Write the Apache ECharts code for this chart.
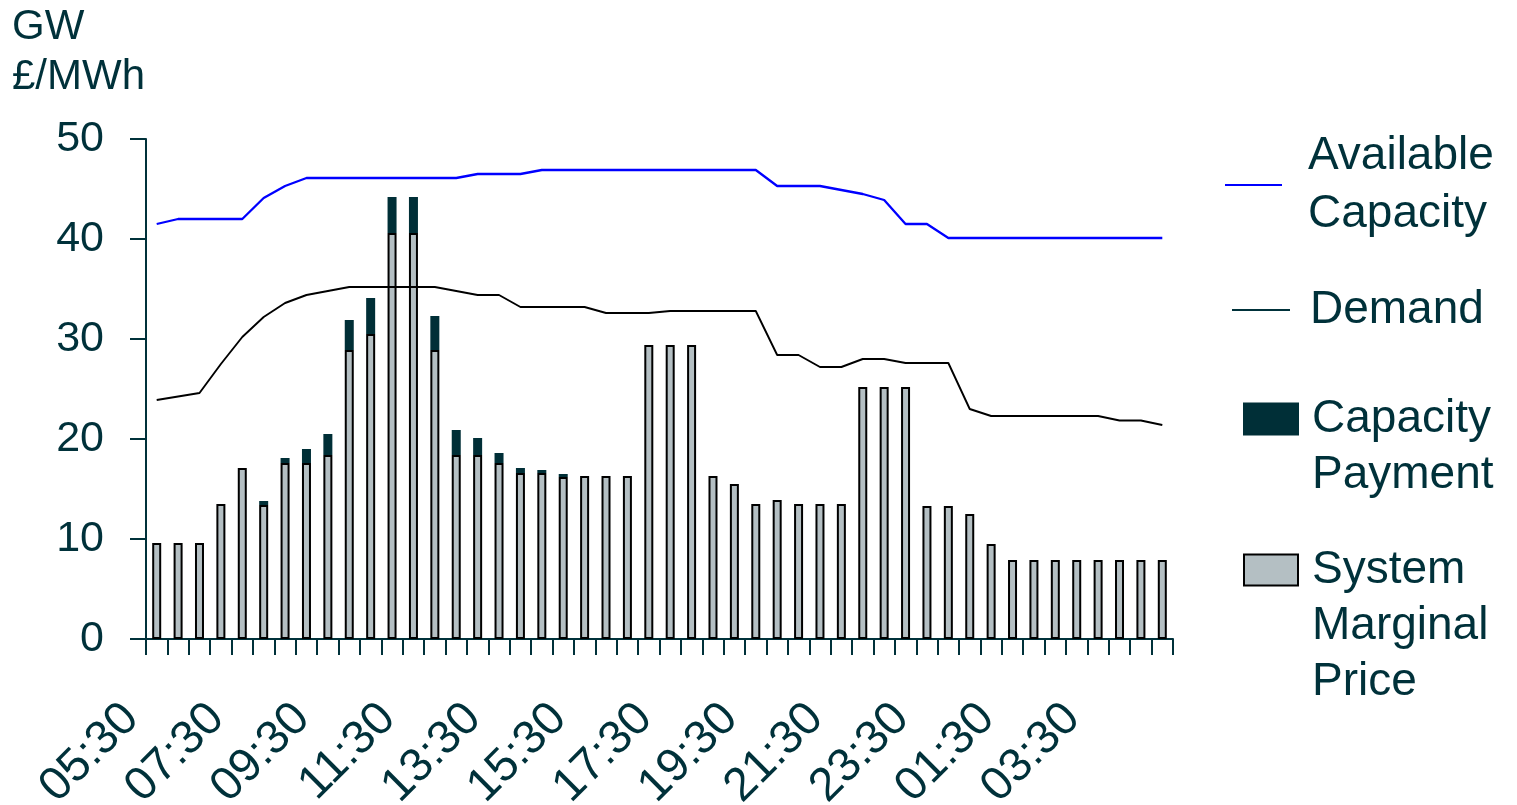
<!DOCTYPE html>
<html>
<head>
<meta charset="utf-8">
<script src="https://cdn.jsdelivr.net/npm/echarts@6/dist/echarts.min.js"></script>
<style>
  html, body { margin: 0; padding: 0; background: #fff; }
  #chart { width: 1517px; height: 805px; }
</style>
</head>
<body>
<div id="chart"></div>
<script>
// Half-hourly settlement periods, 05:30 through 05:00 the next morning
const periods = [
  '05:30','06:00','06:30','07:00','07:30','08:00','08:30','09:00','09:30','10:00',
  '10:30','11:00','11:30','12:00','12:30','13:00','13:30','14:00','14:30','15:00',
  '15:30','16:00','16:30','17:00','17:30','18:00','18:30','19:00','19:30','20:00',
  '20:30','21:00','21:30','22:00','22:30','23:00','23:30','00:00','00:30','01:00',
  '01:30','02:00','02:30','03:00','03:30','04:00','04:30','05:00'
];

// System Marginal Price, £/MWh
const systemMarginalPrice = [
  9.6, 9.6, 9.6, 13.5, 17.1, 13.4, 17.6, 17.6, 18.4, 28.9,
  30.5, 40.6, 40.6, 28.9, 18.4, 18.4, 17.6, 16.6, 16.6, 16.2,
  16.3, 16.3, 16.3, 29.4, 29.4, 29.4, 16.3, 15.5, 13.5, 13.9,
  13.5, 13.5, 13.5, 25.2, 25.2, 25.2, 13.3, 13.3, 12.5, 9.5,
  7.9, 7.9, 7.9, 7.9, 7.9, 7.9, 7.9, 7.9
];

// Capacity Payment on top of SMP, £/MWh
const capacityPayment = [
  0, 0, 0, 0, 0, 0.4, 0.5, 1.4, 2.1, 3.0,
  3.6, 3.6, 3.6, 3.4, 2.5, 1.7, 1.0, 0.5, 0.3, 0.3,
  0, 0, 0, 0, 0, 0, 0, 0, 0, 0,
  0, 0, 0, 0, 0, 0, 0, 0, 0, 0,
  0, 0, 0, 0, 0, 0, 0, 0
];

// Available generating capacity, GW
const availableCapacity = [
  41.5, 42.0, 42.0, 42.0, 42.0, 44.1, 45.3, 46.1, 46.1, 46.1,
  46.1, 46.1, 46.1, 46.1, 46.1, 46.5, 46.5, 46.5, 46.9, 46.9,
  46.9, 46.9, 46.9, 46.9, 46.9, 46.9, 46.9, 46.9, 46.9, 45.3,
  45.3, 45.3, 44.9, 44.5, 43.9, 41.5, 41.5, 40.1, 40.1, 40.1,
  40.1, 40.1, 40.1, 40.1, 40.1, 40.1, 40.1, 40.1
];

// System demand, GW
const demand = [
  23.9, 24.25, 24.6, 27.5, 30.2, 32.2, 33.6, 34.4, 34.8, 35.2,
  35.2, 35.2, 35.2, 35.2, 34.8, 34.4, 34.4, 33.2, 33.2, 33.2,
  33.2, 32.6, 32.6, 32.6, 32.8, 32.8, 32.8, 32.8, 32.8, 28.4,
  28.4, 27.2, 27.2, 28.0, 28.0, 27.6, 27.6, 27.6, 23.0, 22.3,
  22.3, 22.3, 22.3, 22.3, 22.3, 21.85, 21.85, 21.4
];

const yTicks = { min: 0, max: 50, step: 10 };

const INK = '#00313a';
const FONT = '"Liberation Sans", Arial, sans-serif';

const chart = echarts.init(document.getElementById('chart'), null, { renderer: 'canvas' });

// One legend block per entry so each can sit where it belongs.
// leadBlank empty lines above the text keep the first text line level with the key.
function legendBlock(name, top, left, w, h, padLeft, lineHeight, leadBlank) {
  return {
    data: [{ name: name, icon: 'rect' }],
    orient: 'vertical',
    left: left,
    top: top,
    padding: 0,
    itemWidth: w,
    itemHeight: h,
    selectedMode: false,
    formatter: (n) => '\n'.repeat(leadBlank) + n.replace(/ /g, '\n'),
    textStyle: {
      color: INK, fontFamily: FONT, fontSize: 46, lineHeight: lineHeight,
      padding: [0, 0, 0, padLeft]
    }
  };
}

chart.setOption({
  animation: false,
  backgroundColor: '#ffffff',
  title: {
    text: 'GW\n£/MWh',
    left: 12,
    top: 2,
    padding: 0,
    textStyle: { color: INK, fontFamily: FONT, fontSize: 42, fontWeight: 'normal', lineHeight: 50 }
  },
  grid: {
    left: 146, right: 344, top: 139, bottom: 166,
    containLabel: false,
    outerBoundsMode: 'none'
  },
  legend: [
    legendBlock('Available Capacity', 127, 1225, 57, 2, 21, 58, 0),
    legendBlock('Demand', 282, 1232, 58, 2, 15, 56, 0),
    legendBlock('Capacity Payment', 335, 1243, 54, 31, 9, 56, 1),
    legendBlock('System Marginal Price', 430, 1243, 54, 31, 9, 56, 2)
  ],
  xAxis: {
    type: 'category',
    data: periods,
    boundaryGap: true,
    axisLine: { show: true, lineStyle: { color: INK, width: 2 } },
    axisTick: { show: true, interval: 0, length: 16, lineStyle: { color: INK, width: 2 } },
    axisLabel: {
      interval: 3,
      rotate: 45,
      margin: 47,
      padding: [0, 36, 0, 0],
      color: INK,
      fontFamily: FONT,
      fontSize: 47
    },
    splitLine: { show: false }
  },
  yAxis: {
    type: 'value',
    min: yTicks.min,
    max: yTicks.max,
    interval: yTicks.step,
    axisLine: { show: true, lineStyle: { color: INK, width: 2 } },
    axisTick: { show: true, length: 16, lineStyle: { color: INK, width: 2 } },
    axisLabel: { margin: 42, color: INK, fontFamily: FONT, fontSize: 43 },
    splitLine: { show: false }
  },
  series: [
    {
      name: 'System Marginal Price',
      type: 'bar',
      stack: 'price',
      barWidth: 9,
      data: systemMarginalPrice,
      itemStyle: { color: '#b4bfc3', borderColor: '#000000', borderWidth: 2 },
      z: 2
    },
    {
      name: 'Capacity Payment',
      type: 'bar',
      stack: 'price',
      barWidth: 9,
      data: capacityPayment.map(v => (v > 0 ? v : '-')),
      itemStyle: { color: '#002f37', borderColor: '#002f37', borderWidth: 2 },
      z: 2
    },
    {
      name: 'Available Capacity',
      type: 'line',
      data: availableCapacity,
      color: '#0000ff',
      symbol: 'none',
      lineStyle: { color: '#0000ff', width: 2.3 },
      itemStyle: { color: '#0000ff' },
      z: 3
    },
    {
      name: 'Demand',
      type: 'line',
      data: demand,
      color: '#000000',
      symbol: 'none',
      lineStyle: { color: '#000000', width: 1.9 },
      itemStyle: { color: '#00313a' },
      z: 3
    }
  ]
});
</script>
</body>
</html>
